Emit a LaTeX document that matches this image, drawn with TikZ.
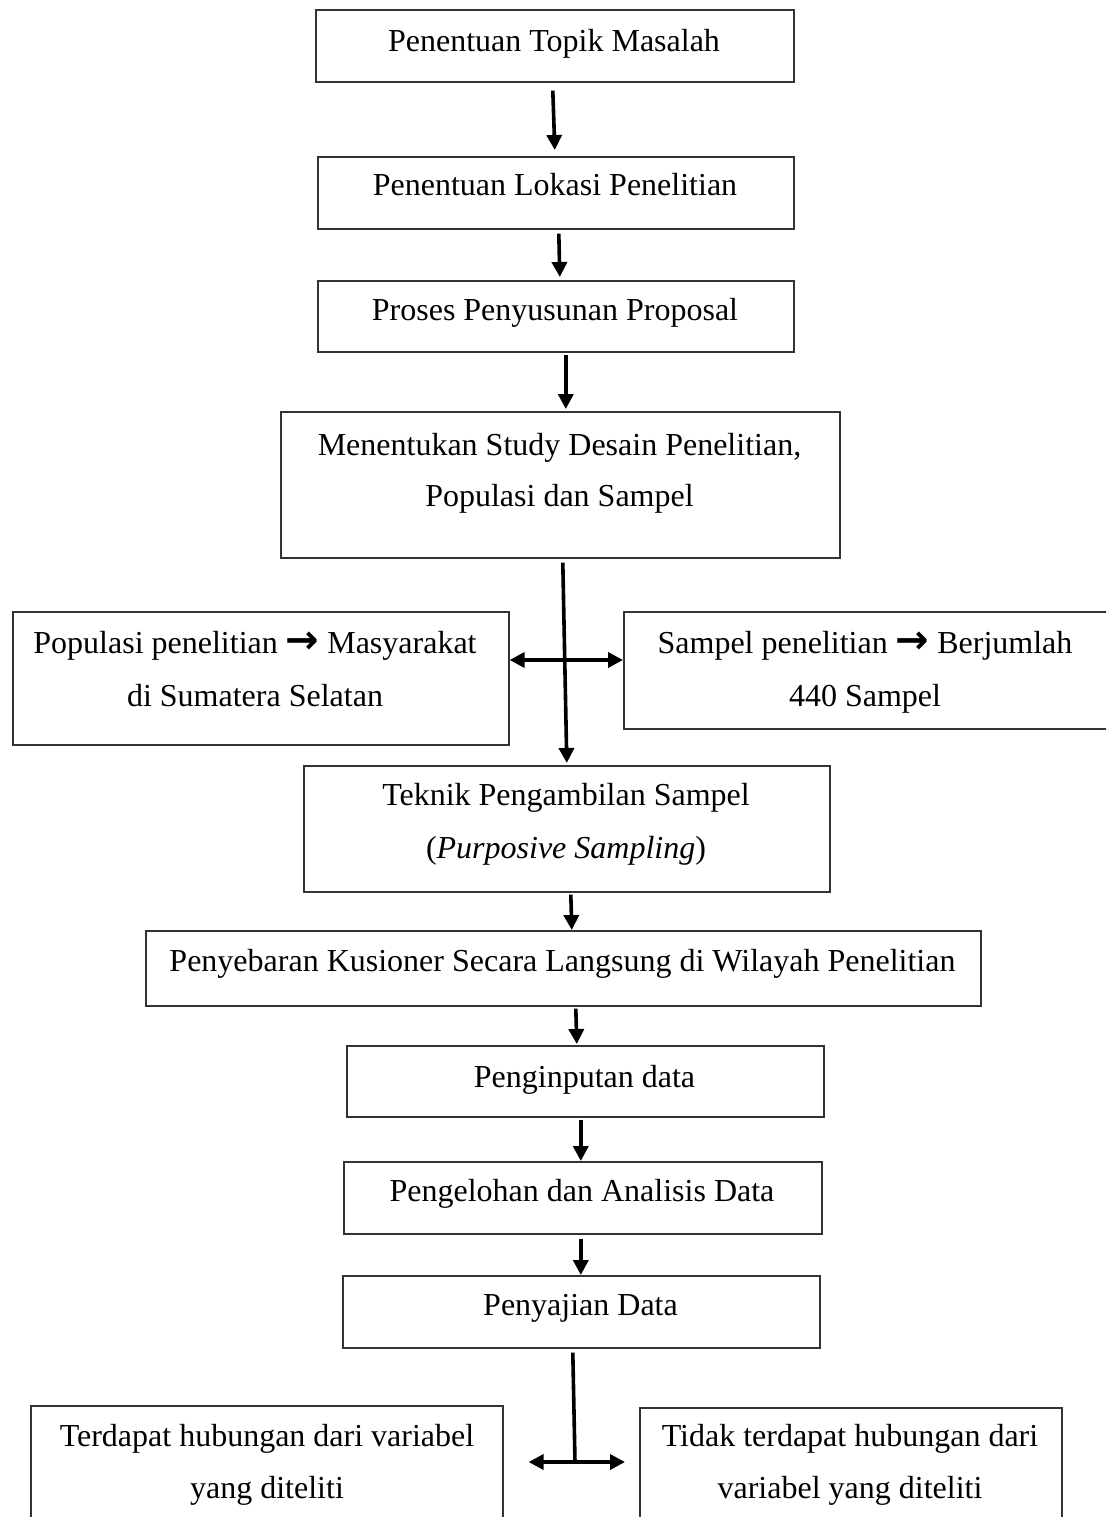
\documentclass[tikz,border=0pt]{standalone}
\usepackage{fontspec}
\setmainfont{Liberation Serif}
\newfontfamily\symfont{DejaVu Sans}
\usetikzlibrary{arrows.meta,calc}
\newcommand{\rarr}{\raisebox{-0.5pt}{\scalebox{1.25}{\symfont\bfseries →}}}
\begin{document}
\begin{tikzpicture}[x=1pt,y=-1pt,
  box/.style={draw=black!80, line width=1.6pt, inner sep=0pt, anchor=north west},
  lbl/.style={anchor=base, inner sep=0pt, font=\fontsize{32}{51.5}\selectfont},
  arr/.style={line width=3.6pt, -{Triangle[length=15pt,width=15pt]}},
  plain/.style={line width=3.6pt},
  darr/.style={line width=3.6pt, {Triangle[length=15pt,width=15pt]}-{Triangle[length=15pt,width=15pt]}}]
\useasboundingbox (0,0) rectangle (1106,1517);
\clip (0,0) rectangle (1106,1517);

% boxes
\node[box, minimum width=478, minimum height=72] (b1) at (315,9) {};
\node[box, minimum width=476, minimum height=72] (b2) at (317,156) {};
\node[box, minimum width=476, minimum height=71] (b3) at (317,280) {};
\node[box, minimum width=559, minimum height=146] (b4) at (280,411) {};
\node[box, minimum width=496, minimum height=133] (bl) at (12,611) {};
\node[box, minimum width=500, minimum height=117] (br) at (623,611) {};
\node[box, minimum width=526, minimum height=126] (b5) at (303,765) {};
\node[box, minimum width=835, minimum height=75] (b6) at (145,930) {};
\node[box, minimum width=477, minimum height=71] (b7) at (346,1045) {};
\node[box, minimum width=478, minimum height=72] (b8) at (343,1161) {};
\node[box, minimum width=477, minimum height=72] (b9) at (342,1275) {};
\node[box, minimum width=472, minimum height=140] (bbl) at (30,1405) {};
\node[box, minimum width=422, minimum height=140] (bbr) at (639,1407) {};

% labels
\node[lbl] (t1) at (554,52) {Penentuan Topik Masalah};
\node[lbl] (t2) at (555,196) {Penentuan Lokasi Penelitian};
\node[lbl] (t3) at (555,320) {Proses Penyusunan Proposal};
\node[lbl] (t4a) at (559.5,455) {Menentukan Study Desain Penelitian,};
\node[lbl] (t4b) at (559.5,506) {Populasi dan Sampel};
\node[lbl] (tla) at (255,653) {Populasi penelitian \rarr\ Masyarakat};
\node[lbl] (tlb) at (255,706) {di Sumatera Selatan};
\node[lbl] (tra) at (865,653) {Sampel penelitian \rarr\ Berjumlah};
\node[lbl] (trb) at (865,706) {440 Sampel};
\node[lbl] (t5a) at (566,805) {Teknik Pengambilan Sampel};
\node[lbl] (t5b) at (566,858) {(\textit{Purposive Sampling})};
\node[lbl] (t6) at (562.5,971) {Penyebaran Kusioner Secara Langsung di Wilayah Penelitian};
\node[lbl] (t7) at (584.5,1087) {Penginputan data};
\node[lbl] (t8) at (582,1201) {Pengelohan dan Analisis Data};
\node[lbl] (t9) at (580.5,1315) {Penyajian Data};
\node[lbl] (tba) at (267,1446) {Terdapat hubungan dari variabel};
\node[lbl] (tbb) at (267,1498) {yang diteliti};
\node[lbl] (tca) at (850,1446) {Tidak terdapat hubungan dari};
\node[lbl] (tcb) at (850,1498) {variabel yang diteliti};

% connectors
\draw[arr] ([xshift=-2pt,yshift=-8pt]b1.south) -- ([xshift=-1pt,yshift=6pt]b2.north);
\draw[arr] ([xshift=3pt,yshift=-4pt]b2.south) -- ([xshift=4pt,yshift=3pt]b3.north);
\draw[arr] ([xshift=10pt,yshift=-2pt]b3.south) -- ([xshift=5.5pt,yshift=2pt]b4.north);
\draw[arr] ([xshift=2.5pt,yshift=-4pt]b4.south) -- ([xshift=0pt,yshift=2pt]b5.north);
\coordinate (m1) at (566,660);
\draw[darr] (bl.east |- m1) -- (br.west |- m1);
\draw[arr] ([xshift=4pt,yshift=-2pt]b5.south) -- ([xshift=8.5pt]b6.north);
\draw[arr] ([xshift=12.5pt,yshift=-2pt]b6.south) -- ([xshift=-8.5pt,yshift=1pt]b7.north);
\draw[arr] ([xshift=-4.5pt,yshift=-2pt]b7.south) -- ([xshift=-2pt]b8.north);
\draw[arr] ([xshift=-2pt,yshift=-4pt]b8.south) -- ([xshift=-0.5pt]b9.north);
\coordinate (j) at (575,1462);
\draw[plain] ([xshift=-8.5pt,yshift=-4pt]b9.south) -- (j);
\draw[darr] ([xshift=25pt]bbl.east |- j) -- ([xshift=-14pt]bbr.west |- j);
\end{tikzpicture}
\end{document}
